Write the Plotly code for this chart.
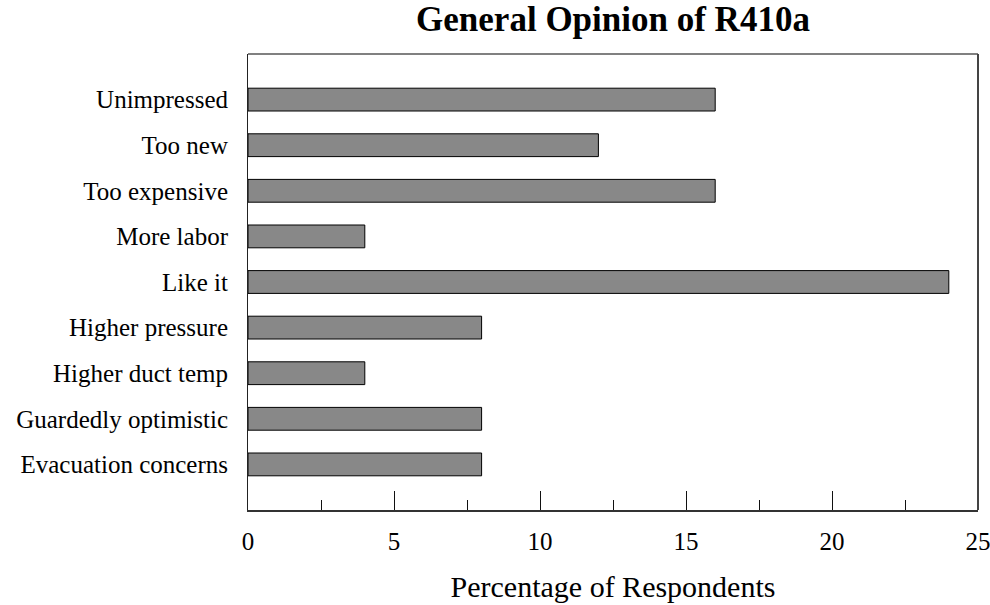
import plotly.graph_objects as go

# Survey responses, listed bottom-to-top as they appear on the chart
categories = [
    "Evacuation concerns",
    "Guardedly optimistic",
    "Higher duct temp",
    "Higher pressure",
    "Like it",
    "More labor",
    "Too expensive",
    "Too new",
    "Unimpressed",
]
percentages = [8, 8, 4, 8, 24, 4, 16, 12, 16]

x_ticks = [0, 5, 10, 15, 20, 25]

SERIF = "Liberation Serif, Times New Roman, serif"

fig = go.Figure(
    go.Bar(
        x=percentages,
        y=categories,
        orientation="h",
        width=0.5,
        marker=dict(color="#888888", line=dict(color="#000000", width=1)),
        hoverinfo="x+y",
    )
)

fig.update_layout(
    width=990,
    height=605,
    margin=dict(l=248, r=12, t=54, b=95, autoexpand=False),
    paper_bgcolor="white",
    plot_bgcolor="white",
    showlegend=False,
    title=dict(
        text="<b>General Opinion of R410a</b>",
        font=dict(family=SERIF, size=35, color="black"),
        x=0.5,
        xref="paper",
        xanchor="center",
        y=1 - 19 / 605,
        yref="container",
        yanchor="middle",
    ),
    xaxis=dict(
        range=[0, 25],
        tickvals=x_ticks,
        ticktext=[str(v) for v in x_ticks],
        ticks="inside",
        ticklen=19,
        tickwidth=1,
        tickcolor="#111111",
        minor=dict(dtick=2.5, tick0=0, ticks="inside", ticklen=10,
                   tickwidth=1, tickcolor="#111111"),
        showgrid=False,
        zeroline=False,
        showline=True,
        linecolor="#333333",
        linewidth=2,
        tickfont=dict(family=SERIF, size=25, color="black"),
        ticklabelstandoff=8,
        ticklabeloverflow="allow",
        automargin=False,
        title=dict(
            text="Percentage of Respondents",
            font=dict(family=SERIF, size=30, color="black"),
            standoff=22,
        ),
        fixedrange=True,
    ),
    yaxis=dict(
        type="category",
        categoryorder="array",
        categoryarray=categories,
        range=[-1, len(categories)],
        ticks="",
        showgrid=False,
        zeroline=False,
        showline=True,
        linecolor="#222222",
        linewidth=1,
        tickfont=dict(family=SERIF, size=25, color="black"),
        ticklabelstandoff=14,
        automargin=False,
        fixedrange=True,
    ),
    shapes=[
        # top and right borders of the plot frame
        dict(type="line", xref="paper", yref="paper", x0=0, x1=1, y0=1, y1=1,
             line=dict(color="#808080", width=2)),
        dict(type="line", xref="paper", yref="paper", x0=1, x1=1, y0=0, y1=1,
             line=dict(color="#444444", width=2)),
    ],
)

fig.write_html("out.html")
